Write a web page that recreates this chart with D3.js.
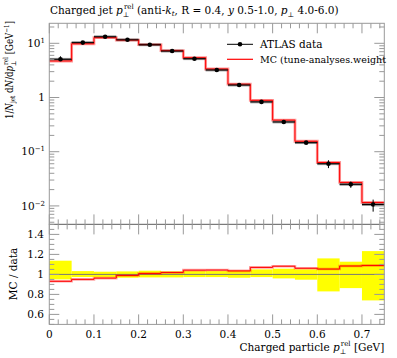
<!DOCTYPE html>
<html><head><meta charset="utf-8">
<script src="https://cdn.jsdelivr.net/npm/d3@7"></script>
<style>
body{margin:0;background:#fff;}
svg{display:block;font-family:"DejaVu Serif","Liberation Serif",serif;}
</style></head>
<body>
<script>
// ---- data ----
const binLow  = [0,0.05,0.10,0.15,0.20,0.25,0.30,0.35,0.40,0.45,0.50,0.55,0.60,0.65,0.70];
const binHigh = [0.05,0.10,0.15,0.20,0.25,0.30,0.35,0.40,0.45,0.50,0.55,0.60,0.65,0.70,0.75];
const dataVals = [5.07,10.3,13.2,11.6,9.4,7.2,5.2,3.22,1.70,0.83,0.354,0.147,0.060,0.025,0.0106];
const mcVals   = [4.72,9.79,12.71,11.48,9.49,7.34,5.42,3.36,1.76,0.888,0.383,0.156,0.0632,0.0271,0.01155];
const errUp    = [0.137,0.033,0.027,0.030,0.037,0.030,0.033,0.033,0.037,0.050,0.057,0.050,0.160,0.127,0.233];
const errDown  = [0.050,0.027,0.030,0.033,0.030,0.030,0.027,0.027,0.033,0.027,0.040,0.053,0.170,0.137,0.260];
const xTicks = [0,0.1,0.2,0.3,0.4,0.5,0.6,0.7];
const ratioTicks = [0.6,0.8,1,1.2,1.4];
const logMajor = [0.01,0.1,1,10];
const legendLabels = ["ATLAS data","MC (tune-analyses.weight"];

const W=397,H=358;
const L=49.3,R=384.3,T=23.3,M=224.4,B=324.4;
const svg=d3.select("body").append("svg").attr("width",W).attr("height",H);

const x=d3.scaleLinear().domain([0,0.75]).range([L,R]);
const y=d3.scaleLog().domain([0.00456,23.4]).range([M,T]);
const yr=d3.scaleLinear().domain([0.5,1.5]).range([B,M]);

const bins=binLow.map((lo,i)=>({lo,hi:binHigh[i],d:dataVals[i],m:mcVals[i],up:errUp[i],dn:errDown[i],r:mcVals[i]/dataVals[i]}));

const tickCol="#999", frameCol="#999";

// ---- ratio panel ----
const gR=svg.append("g");
gR.selectAll("rect.band").data(bins).enter().append("rect")
  .attr("x",d=>x(d.lo)).attr("width",d=>x(d.hi)-x(d.lo))
  .attr("y",d=>yr(1+d.up)).attr("height",d=>yr(1-d.dn)-yr(1+d.up))
  .attr("fill","#ffff00");
gR.append("line").attr("x1",L).attr("x2",R).attr("y1",yr(1)).attr("y2",yr(1))
  .attr("stroke","#777").attr("stroke-width",1);
const stepPts=(accessor,ys)=>{const p=[];bins.forEach(b=>{p.push([x(b.lo),ys(accessor(b))]);p.push([x(b.hi),ys(accessor(b))]);});return p;};
const line=d3.line();
gR.append("path").attr("d",line(stepPts(b=>b.r,yr))).attr("fill","none")
  .attr("stroke","rgba(255,0,0,0.35)").attr("stroke-width",2.6);
gR.append("path").attr("d",line(stepPts(b=>b.r,yr))).attr("fill","none")
  .attr("stroke","#ff0000").attr("stroke-width",1);

// ---- main panel ----
const gM=svg.append("g");
gM.append("path").attr("d",line(stepPts(b=>b.m,y))).attr("fill","none")
  .attr("stroke","rgba(255,0,0,0.4)").attr("stroke-width",2.8);
gM.selectAll("line.dband").data(bins).enter().append("line")
  .attr("x1",d=>x(d.lo)).attr("x2",d=>x(d.hi)).attr("y1",d=>y(d.d)).attr("y2",d=>y(d.d))
  .attr("stroke","rgba(60,60,60,0.55)").attr("stroke-width",2.8);
gM.append("path").attr("d",line(stepPts(b=>b.m,y))).attr("fill","none")
  .attr("stroke","#ff0000").attr("stroke-width",1);
gM.selectAll("line.dx").data(bins).enter().append("line")
  .attr("x1",d=>x(d.lo)).attr("x2",d=>x(d.hi)).attr("y1",d=>y(d.d)).attr("y2",d=>y(d.d))
  .attr("stroke","#000").attr("stroke-width",1);
gM.selectAll("line.dy").data(bins).enter().append("line")
  .attr("x1",d=>x((d.lo+d.hi)/2)).attr("x2",d=>x((d.lo+d.hi)/2))
  .attr("y1",d=>y(d.d*(1+d.up))).attr("y2",d=>y(d.d*(1-d.dn)))
  .attr("stroke","#000").attr("stroke-width",1);
gM.selectAll("circle").data(bins).enter().append("circle")
  .attr("cx",d=>x((d.lo+d.hi)/2)).attr("cy",d=>y(d.d)).attr("r",2.3).attr("fill","#000");

// ---- frames ----
[[T,M],[M,B]].forEach(([t,b])=>{
  svg.append("rect").attr("x",L).attr("y",t).attr("width",R-L).attr("height",b-t)
    .attr("fill","none").attr("stroke",frameCol).attr("stroke-width",1);
});
svg.append("line").attr("x1",L).attr("x2",R).attr("y1",M).attr("y2",M).attr("stroke","#777").attr("stroke-width",1);

// ---- x ticks (all four horizontal borders) ----
const xMinor=d3.range(0,0.7501,0.02).filter(v=>Math.abs(v*10-Math.round(v*10))>1e-6);
const tk=svg.append("g").attr("stroke",tickCol).attr("stroke-width",1);
[[T,1],[M,-1],[M,1],[B,-1]].forEach(([yy,dir])=>{
  xTicks.forEach(v=>tk.append("line").attr("x1",x(v)).attr("x2",x(v)).attr("y1",yy).attr("y2",yy+dir*10));
  xMinor.forEach(v=>tk.append("line").attr("x1",x(v)).attr("x2",x(v)).attr("y1",yy).attr("y2",yy+dir*5));
});
// log y ticks
const logMinor=[];
[-3,-2,-1,0,1].forEach(e=>{for(let k=2;k<=9;k++){const v=k*Math.pow(10,e);if(v>0.00456&&v<23.4)logMinor.push(v);}});
[[L,1],[R,-1]].forEach(([xx,dir])=>{
  logMajor.forEach(v=>tk.append("line").attr("x1",xx).attr("x2",xx+dir*10).attr("y1",y(v)).attr("y2",y(v)));
  logMinor.forEach(v=>tk.append("line").attr("x1",xx).attr("x2",xx+dir*5).attr("y1",y(v)).attr("y2",y(v)));
});
// ratio y ticks
const rMinor=d3.range(0.5,1.5001,0.05).filter(v=>!ratioTicks.some(t=>Math.abs(t-v)<1e-6));
[[L,1],[R,-1]].forEach(([xx,dir])=>{
  ratioTicks.forEach(v=>tk.append("line").attr("x1",xx).attr("x2",xx+dir*10).attr("y1",yr(v)).attr("y2",yr(v)));
  rMinor.forEach(v=>tk.append("line").attr("x1",xx).attr("x2",xx+dir*5).attr("y1",yr(v)).attr("y2",yr(v)));
});

// ---- tick labels ----
const fs=10.5, sfs=7;
const lab=svg.append("g").attr("font-size",fs).attr("fill","#000");
xTicks.forEach(v=>lab.append("text").attr("x",x(v)).attr("y",338).attr("text-anchor","middle").text(v===0?"0":d3.format(".1f")(v)));
ratioTicks.forEach(v=>lab.append("text").attr("x",44).attr("y",yr(v)).attr("dy","0.35em").attr("text-anchor","end").text(v===1?"1":d3.format(".1f")(v)));
logMajor.forEach(v=>{
  const e=Math.round(Math.log10(v));
  const t=lab.append("text").attr("x",45).attr("y",y(v)).attr("dy","0.35em").attr("text-anchor","end");
  if(e===0){t.text("1");}
  else{t.append("tspan").text("10");t.append("tspan").attr("dy",-4).attr("font-size",sfs).text(e<0?"\u2212"+(-e):String(e));}
});

// ---- title ----
const title=svg.append("text").attr("x",50).attr("y",14).attr("font-size",fs);
title.append("tspan").text("Charged jet ");
title.append("tspan").attr("font-style","italic").text("p");
title.append("tspan").attr("font-size",sfs).attr("dy",3).text("\u22A5");
title.append("tspan").attr("font-size",sfs).attr("dx",-5.5).attr("dy",-8).text("rel");
title.append("tspan").attr("dy",5).text(" (anti-");
title.append("tspan").attr("font-style","italic").text("k");
title.append("tspan").attr("font-style","italic").attr("font-size",sfs).attr("dy",2).text("t");
title.append("tspan").attr("dy",-2).text(", R = 0.4, ");
title.append("tspan").attr("font-style","italic").text("y");
title.append("tspan").text(" 0.5-1.0, ");
title.append("tspan").attr("font-style","italic").text("p");
title.append("tspan").attr("font-size",sfs).attr("dy",3).text("\u22A5");
title.append("tspan").attr("dy",-3).text(" 4.0-6.0)");

// ---- axis labels ----
const xl=svg.append("text").attr("x",R).attr("y",351).attr("text-anchor","end").attr("font-size",fs);
xl.append("tspan").text("Charged particle ");
xl.append("tspan").attr("font-style","italic").text("p");
xl.append("tspan").attr("font-size",sfs).attr("dy",3).text("\u22A5");
xl.append("tspan").attr("font-size",sfs).attr("dx",-5.5).attr("dy",-8).text("rel");
xl.append("tspan").attr("dy",5).text(" [GeV]");

const yl=svg.append("text").attr("transform","translate(13,21) rotate(-90)").attr("text-anchor","end")
  .attr("font-size",fs).attr("textLength",98).attr("lengthAdjust","spacingAndGlyphs");
yl.append("tspan").text("1/");
yl.append("tspan").attr("font-style","italic").text("N");
yl.append("tspan").attr("font-size",sfs).attr("dy",2).text("jet");
yl.append("tspan").attr("dy",-2).text(" d");
yl.append("tspan").attr("font-style","italic").text("N");
yl.append("tspan").text("/d");
yl.append("tspan").attr("font-style","italic").text("p");
yl.append("tspan").attr("font-size",sfs).attr("dy",3).text("\u22A5");
yl.append("tspan").attr("font-size",sfs).attr("dx",-5.5).attr("dy",-8).text("rel");
yl.append("tspan").attr("dy",5).text(" [GeV");
yl.append("tspan").attr("font-size",sfs).attr("dy",-4).text("\u22121");
yl.append("tspan").attr("dy",4).text("]");

svg.append("text").attr("transform","translate(17,274) rotate(-90)").attr("text-anchor","middle").attr("font-size",fs).text("MC / data");

// ---- legend ----
const lg=svg.append("g");
lg.append("line").attr("x1",227).attr("x2",253).attr("y1",44.3).attr("y2",44.3).attr("stroke","#000").attr("stroke-width",1);
lg.append("circle").attr("cx",240).attr("cy",44.3).attr("r",2.3).attr("fill","#000");
lg.append("line").attr("x1",227).attr("x2",253).attr("y1",59.3).attr("y2",59.3).attr("stroke","#ff0000").attr("stroke-width",1.2);
lg.append("text").attr("x",260).attr("y",48).attr("font-size",fs).text(legendLabels[0]);
lg.append("text").attr("x",260).attr("y",63).attr("font-size",10)
  .attr("textLength",126).attr("lengthAdjust","spacingAndGlyphs").text(legendLabels[1]);
</script>
</body></html>
